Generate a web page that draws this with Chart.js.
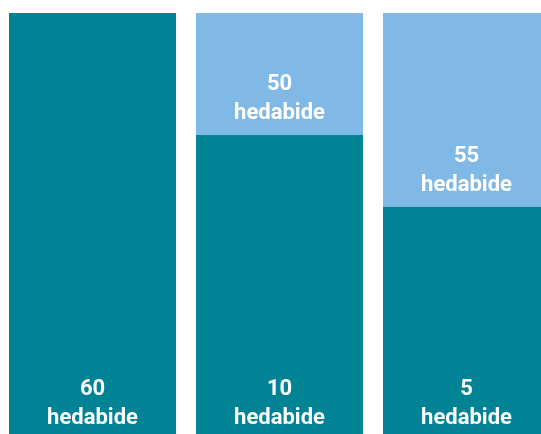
<!DOCTYPE html>
<html>
<head>
<meta charset="utf-8">
<script src="https://cdn.jsdelivr.net/npm/chart.js@4/dist/chart.umd.min.js"></script>
<style>
  html, body { margin: 0; padding: 0; background: #ffffff; overflow: hidden; }
  #wrap { position: absolute; left: -1px; top: 0; width: 561px; height: 434px; }
</style>
</head>
<body>
<div id="wrap"><canvas id="c" width="561" height="434"></canvas></div>
<script>
// Categories (three columns)
const categories = ["A", "B", "C"];
// Segment heights as drawn, on a 0–60 scale
const bottomHeights = [60, 42.6, 32.4];
const topHeights = [0, 17.4, 27.6];
// Text labels printed in each segment
const bottomLabels = ["60", "10", "5"];
const topLabels = ["", "50", "55"];
const unitLabel = "hedabide";

const TEAL = "#008394";
const LIGHT = "#80B9E5";

const labelPlugin = {
  id: "segLabels",
  afterDatasetsDraw(chart) {
    const ctx = chart.ctx;
    ctx.save();
    ctx.fillStyle = "#ffffff";
    ctx.textAlign = "center";
    ctx.textBaseline = "alphabetic";
    ctx.font = "bold 22px Roboto";
    const m0 = chart.getDatasetMeta(0);
    const m1 = chart.getDatasetMeta(1);
    categories.forEach((c, i) => {
      const e0 = m0.data[i];
      ctx.fillText(bottomLabels[i], e0.x, e0.base - 39);
      ctx.fillText(unitLabel, e0.x, e0.base - 10);
      if (topLabels[i]) {
        const e1 = m1.data[i];
        ctx.fillText(topLabels[i], e1.x, e1.base - 45);
        ctx.fillText(unitLabel, e1.x, e1.base - 16);
      }
    });
    ctx.restore();
  }
};

new Chart(document.getElementById("c"), {
  type: "bar",
  data: {
    labels: categories,
    datasets: [
      { data: bottomHeights, backgroundColor: TEAL, borderWidth: 0 },
      { data: topHeights, backgroundColor: LIGHT, borderWidth: 0 }
    ]
  },
  options: {
    responsive: false,
    animation: false,
    events: [],
    layout: { padding: { top: 13, left: 0, right: 0, bottom: 0 } },
    datasets: { bar: { categoryPercentage: 1, barPercentage: 0.893 } },
    plugins: { legend: { display: false }, tooltip: { enabled: false } },
    scales: {
      x: { stacked: true, display: false },
      y: { stacked: true, display: false, min: 0, max: 60 }
    }
  },
  plugins: [labelPlugin]
});
</script>
</body>
</html>
